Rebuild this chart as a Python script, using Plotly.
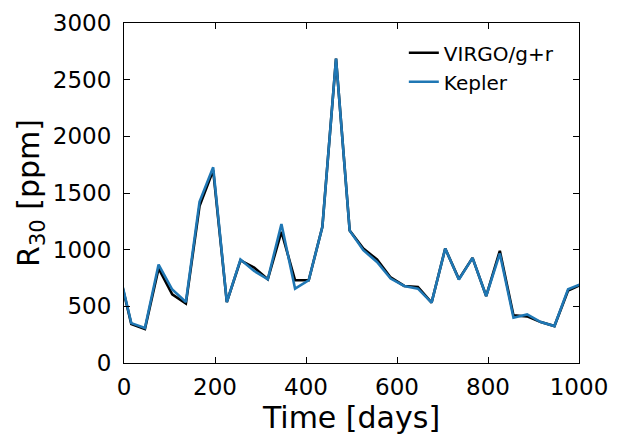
import plotly.graph_objects as go

# time samples (days)
days = [-14, 16, 46, 76, 106, 136, 166, 196, 226, 256, 286, 316, 346, 376, 406,
        436, 466, 496, 526, 556, 586, 616, 646, 676, 706, 736, 766, 796, 826,
        856, 886, 916, 946, 976, 1006]

# R30 in ppm
virgo_r30 = [850, 345, 300, 835, 606, 524, 1385, 1700, 538, 905, 842, 739, 1158,
             730, 730, 1202, 2686, 1168, 1010, 913, 755, 680, 670, 533, 1010,
             740, 928, 591, 990, 420, 411, 361, 326, 640, 695]
kepler_r30 = [860, 352, 308, 869, 648, 538, 1423, 1727, 538, 913, 812, 739, 1226,
              656, 730, 1202, 2686, 1168, 995, 892, 745, 680, 656, 533, 1010,
              736, 928, 591, 966, 400, 429, 361, 326, 650, 700]

x_ticks = [0, 200, 400, 600, 800, 1000]
y_ticks = [0, 500, 1000, 1500, 2000, 2500, 3000]

FONT = "DejaVu Sans"

fig = go.Figure()
fig.add_trace(go.Scatter(x=days, y=virgo_r30, mode="lines", name="VIRGO/g+r",
                         line=dict(color="black", width=2.6)))
fig.add_trace(go.Scatter(x=days, y=kepler_r30, mode="lines", name="Kepler",
                         line=dict(color="#1f77b4", width=2.6)))

axis_style = dict(showline=True, linecolor="black", linewidth=1.2, mirror="ticks",
                  ticks="inside", ticklen=6, tickwidth=1.2, tickcolor="black",
                  showgrid=False, zeroline=False, automargin=False,
                  tickfont=dict(family=FONT, size=23, color="black"))

fig.update_xaxes(range=[0, 1000], tickvals=x_ticks, ticklabelstandoff=3,
                 title=dict(text="Time [days]", font=dict(family=FONT, size=30, color="black"),
                            standoff=4),
                 **axis_style)
fig.update_yaxes(range=[0, 3000], tickvals=y_ticks, ticklabelstandoff=7,
                 title=dict(text="R<sub>30</sub> [ppm]", font=dict(family=FONT, size=30, color="black"),
                            standoff=4),
                 **axis_style)

# the page body adds a small offset, so the figure is a bit smaller than the window
fig.update_layout(
    width=615, height=437,
    margin=dict(l=116, r=44, t=15, b=82),
    plot_bgcolor="white", paper_bgcolor="white",
    showlegend=True,
    legend=dict(x=0.615, y=0.97, xanchor="left", yanchor="top",
                bgcolor="rgba(0,0,0,0)", borderwidth=0,
                font=dict(family=FONT, size=20, color="black"),
                tracegroupgap=0, itemwidth=30),
)

fig.write_html("out.html")
